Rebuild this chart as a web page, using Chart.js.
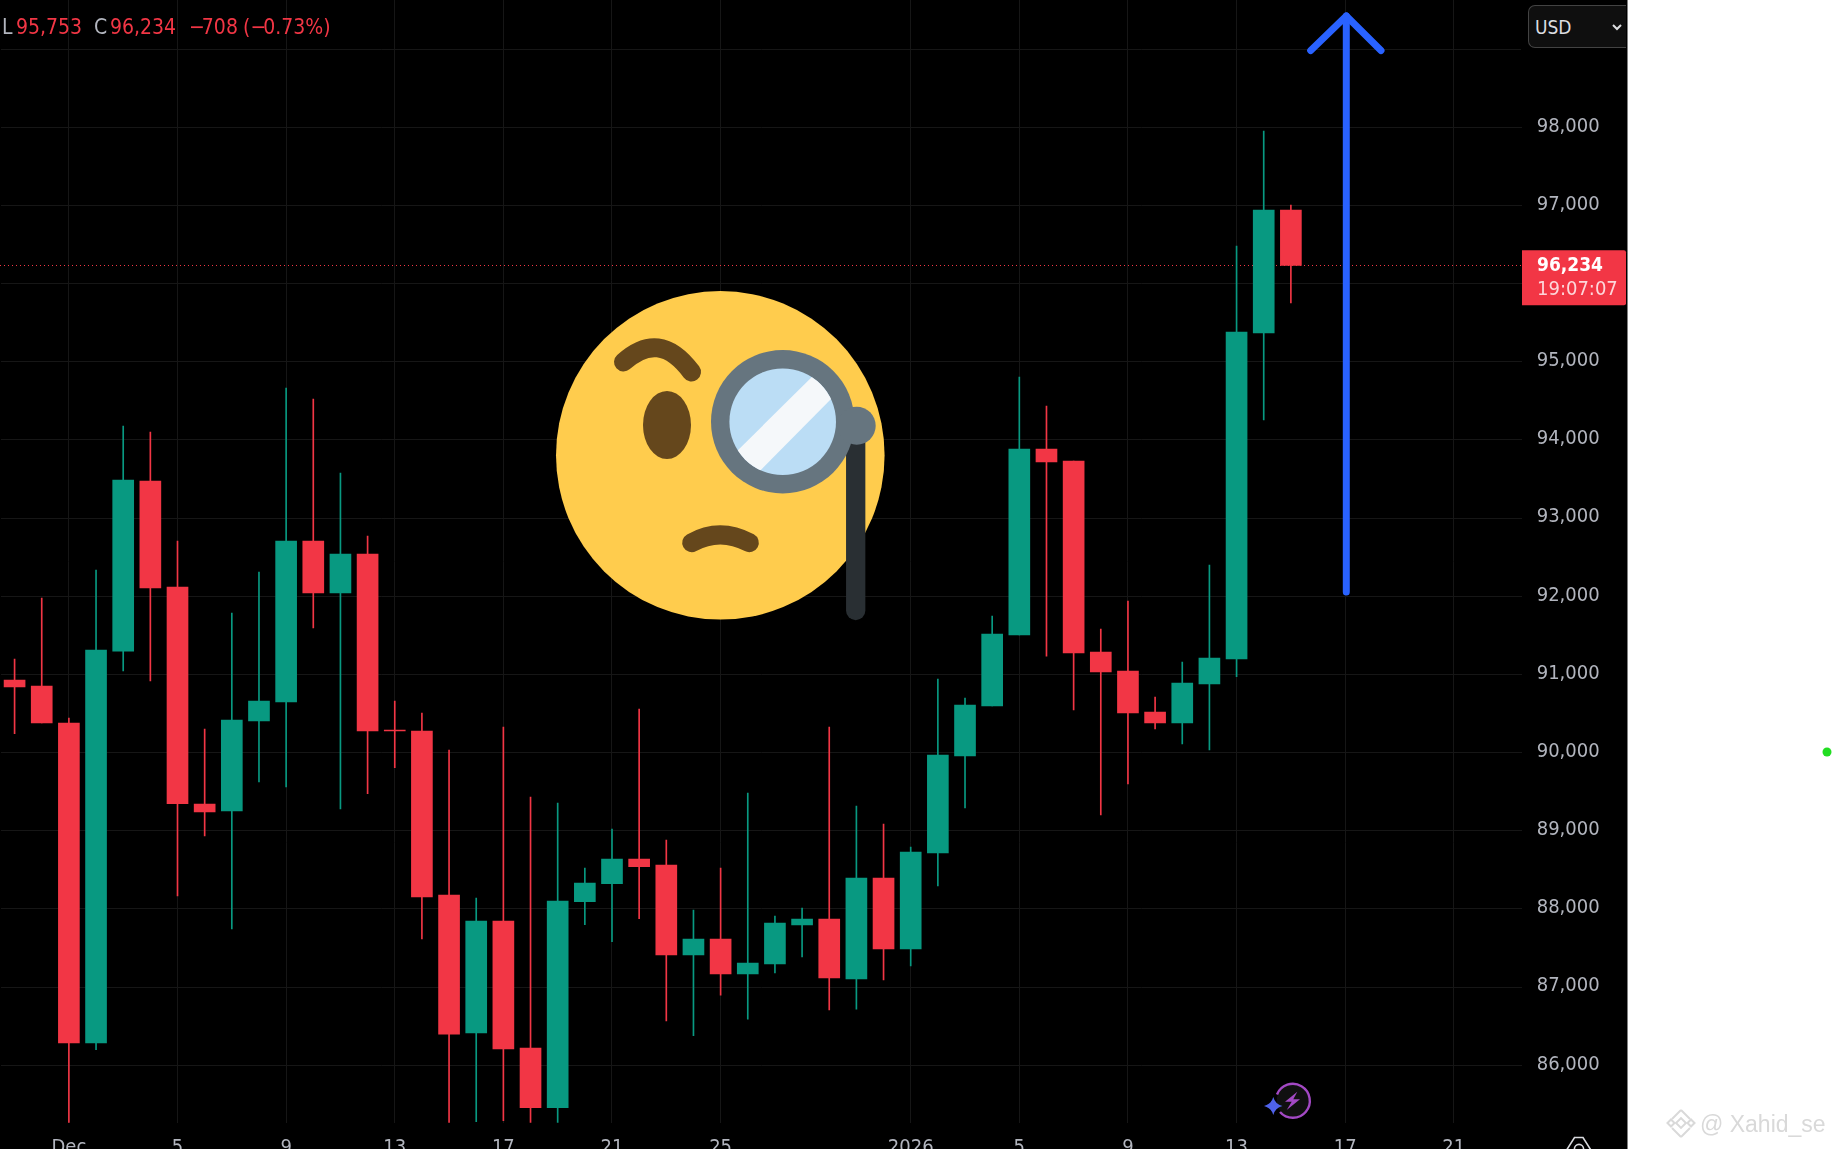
<!DOCTYPE html>
<html>
<head>
<meta charset="utf-8">
<title>BTC candles</title>
<script src="https://cdn.jsdelivr.net/npm/chart.js@4"></script>
<style>
    html, body { margin: 0; padding: 0; width: 1833px; height: 1149px; overflow: hidden; background: #fff; }
    #panel { position: absolute; left: 0; top: 0; width: 1627px; height: 1149px; background: #000; border-right: 1px solid #808080; }
    #priceChart { position: absolute; left: 0; top: 0; }
    #art { position: absolute; left: 0; top: 0; pointer-events: none; }
    .head { position: absolute; top: 13px; font: 21px/28px "DejaVu Sans Condensed", "DejaVu Sans"; color: #f23645; white-space: pre; }
    .head.key { color: #b2b5be; }
    .minus { letter-spacing: -3px; }
    #mask { position: absolute; left: 1521px; top: 0; width: 106px; height: 57px; background: #000; }
    #usd {
        position: absolute; left: 1528px; top: 5px; width: 98px; height: 43px; box-sizing: border-box;
        background: #0f0f0f; border: 1px solid #434343; border-right: 0; border-radius: 7px 0 0 7px;
        font: 19px/43px "DejaVu Sans Condensed", "DejaVu Sans"; color: #dcdde0; padding-left: 6px;
    }
    #mark { position: absolute; left: 1700px; top: 1110px; font: 23px/28px "Liberation Sans"; color: #d9d9d9; white-space: pre; }
</style>
</head>
<body>
<div id="panel"></div>
<canvas id="priceChart" width="1833" height="1149"></canvas>

<span class="head key" style="left:2px">L</span>
<span class="head" style="left:16px">95,753</span>
<span class="head key" style="left:94px">C</span>
<span class="head" style="left:110px">96,234</span>
<span class="head" style="left:189px"><span class="minus">−</span>708</span>
<span class="head" style="left:243px">(<span class="minus">−</span>0.73%)</span>

<div id="mask"></div>
<div id="usd">USD</div>
<div id="mark">@ Xahid_se</div>

<svg id="art" width="1833" height="1149" viewBox="0 0 1833 1149">
    <!-- chevron in the currency button -->
    <path d="M1613 25 L1617 29 L1621 25" fill="none" stroke="#dcdde0" stroke-width="2"/>

    <!-- monocle emoji -->
    <circle cx="720.3" cy="455.3" r="164.3" fill="#ffcc4d"/>
    <ellipse cx="667" cy="425" rx="24" ry="34" fill="#65471c"/>
    <path d="M623.5 362 C647 341 669 342 691.5 372" fill="none" stroke="#65471c" stroke-width="19" stroke-linecap="round"/>
    <path d="M691.7 542.7 Q720 527 749.3 542.7" fill="none" stroke="#65471c" stroke-width="19" stroke-linecap="round"/>
    <line x1="855.7" y1="440" x2="855.7" y2="610.5" stroke="#292f33" stroke-width="19.3" stroke-linecap="round"/>
    <circle cx="782.7" cy="421.7" r="71.7" fill="#66757f"/>
    <circle cx="856.7" cy="425.7" r="19" fill="#66757f"/>
    <circle cx="782.7" cy="421.7" r="53.3" fill="#bbddf5"/>
    <clipPath id="glass"><circle cx="782.7" cy="421.7" r="53.3"/></clipPath>
    <polygon points="822,367 842,388 750,481 729,459" fill="#f5f8fa" clip-path="url(#glass)"/>

    <!-- arrow -->
    <path d="M1346.3 16 V592" fill="none" stroke="#2962ff" stroke-width="7" stroke-linecap="round"/>
    <path d="M1310.7 50.5 L1346.3 16 L1381 50.5" fill="none" stroke="#2962ff" stroke-width="7" stroke-linecap="round" stroke-linejoin="round"/>

    <!-- bolt badge -->
    <circle cx="1292.7" cy="1100.7" r="16" fill="#101010"/>
    <path d="M1277 1094.5 A17 17 0 1 1 1280 1112" fill="none" stroke="#a349c4" stroke-width="2.4"/>
    <polygon points="1297.3,1091.7 1285,1101.7 1291.7,1101.7 1286.7,1110 1300,1099.3 1293.3,1099.3" fill="#a349c4"/>
    <path d="M1273.3 1097 Q1275 1104 1282.5 1106 Q1275 1108 1273.3 1115 Q1271.5 1108 1264 1106 Q1271.5 1104 1273.3 1097Z" fill="#4f62ea"/>

    <!-- scale settings icon, cut by the page edge -->
    <path d="M1566 1151 L1574.5 1137.5 H1583 L1591.5 1151" fill="none" stroke="#d8d9dd" stroke-width="1.6"/>
    <circle cx="1579" cy="1149" r="4.6" fill="none" stroke="#d8d9dd" stroke-width="1.6"/>

    <!-- watermark logo and dot -->
    <g fill="none" stroke="#d9d9d9" stroke-width="2">
        <path d="M1681 1110 L1690 1119 M1681 1110 L1672 1119 M1681 1137 L1690 1128 M1681 1137 L1672 1128"/>
        <rect x="1677.5" y="1119.5" width="7" height="7" transform="rotate(45 1681 1123)"/>
        <rect x="1688.5" y="1120.5" width="5" height="5" transform="rotate(45 1691 1123)"/>
        <rect x="1668.5" y="1120.5" width="5" height="5" transform="rotate(45 1671 1123)"/>
    </g>
    <circle cx="1827" cy="752" r="4.5" fill="#22dd22"/>
</svg>

<script>
const categories = [
    "", "", "Dec", "", "", "", "5", "", "", "", "9", "", "", "", "13", "", "", "", "17", "", "", "", "21", "", "",
    "", "25", "", "", "", "", "", "", "2026", "", "", "", "5", "", "", "", "9", "", "", "", "13", "", "", "", "17",
    "", "", "", "21", "", "",
];
const opens = [
    90929, 90853, 90379, 86286, 91300, 93475, 92119, 89343, 89254, 90405, 90648, 92708,
    92043, 92541, 90290, 90277, 88179, 86414, 87846, 86222, 85458, 88093, 88323, 88640,
    88563, 87411, 87616, 87168, 87296, 87795, 87872, 87104, 88396, 87488, 88716, 89957,
    90597, 91505, 93885, 93731, 91288, 91045, 90520, 90379, 90878, 91198, 95369, 96942,
];
const highs = [
    91198, 91978, 90443, 92337, 94179, 94102, 92708, 90303, 91787, 92311, 94665, 94524,
    93577, 92772, 90661, 90507, 90034, 88141, 90328, 89433, 89356, 88525, 89023, 90558,
    88882, 87987, 88525, 89484, 87910, 88013, 90328, 89317, 89087, 88793, 90942, 90699,
    91748, 94806, 94435, 93731, 91582, 91940, 90712, 91160, 92401, 96481, 97953, 97006,
];
const lows = [
    90242, 90379, 85100, 86200, 91045, 90917, 88166, 88934, 87744, 89625, 89561, 91595,
    89279, 89475, 89807, 87616, 85100, 85279, 85291, 85100, 85100, 87799, 87581, 87876,
    86567, 86379, 86899, 86592, 87181, 87386, 86708, 86720, 87092, 87271, 88294, 89292,
    90597, 91505, 91236, 90546, 89202, 89599, 90303, 90111, 90034, 90972, 94256, 95753,
];
const closes = [
    90840, 90379, 86286, 91313, 93488, 92106, 89347, 89241, 90418, 90661, 92708, 92043,
    92541, 90277, 90277, 88153, 86400, 87846, 86209, 85458, 88102, 88333, 88640, 88541,
    87411, 87616, 87168, 87309, 87821, 87872, 87117, 88396, 87488, 88729, 89970, 90610,
    91518, 93885, 93718, 91275, 91032, 90507, 90379, 90891, 91211, 95381, 96942, 96234,
];
const priceTicks = [86000, 87000, 88000, 89000, 90000, 91000, 92000, 93000, 94000, 95000, 96000, 97000, 98000, 99000];
const lastPrice = 96234;
const countdown = "19:07:07";

const UP = "#089981";
const DOWN = "#f23645";
const AXIS_FONT = "'DejaVu Sans Condensed', 'DejaVu Sans'";

function candleColor(ctx) {
    return closes[ctx.dataIndex] < opens[ctx.dataIndex] ? DOWN : UP;
}

const priceLine = {
    id: "priceLine",
    beforeDatasetsDraw(chart) {
        const y = chart.scales.y.getPixelForValue(lastPrice);
        const c = chart.ctx;
        c.save();
        c.strokeStyle = DOWN;
        c.lineWidth = 1;
        c.setLineDash([1, 3]);
        c.beginPath();
        c.moveTo(0, Math.round(y) + 0.5);
        c.lineTo(chart.chartArea.right, Math.round(y) + 0.5);
        c.stroke();
        c.restore();
    },
};

const priceTag = {
    id: "priceTag",
    afterDraw(chart) {
        const y = chart.scales.y.getPixelForValue(lastPrice);
        const c = chart.ctx;
        c.save();
        c.fillStyle = DOWN;
        c.beginPath();
        c.roundRect(1522, y - 15, 104, 55, [0, 2, 2, 0]);
        c.fill();
        c.textBaseline = "middle";
        c.fillStyle = "#fff";
        c.font = "bold 19px " + AXIS_FONT;
        c.fillText(lastPrice.toLocaleString("en-US"), 1537, y + 1);
        c.fillStyle = "rgba(255,255,255,0.8)";
        c.font = "20px " + AXIS_FONT;
        c.fillText(countdown, 1537, y + 24);
        c.restore();
    },
};

new Chart(document.getElementById("priceChart").getContext("2d"), {
    type: "bar",
    data: {
        labels: categories,
        datasets: [
            {
                label: "body",
                data: opens.map((o, i) => [o, closes[i]]),
                backgroundColor: candleColor,
                barThickness: 21,
                grouped: false,
            },
            {
                label: "wick",
                data: lows.map((l, i) => [l, highs[i]]),
                backgroundColor: candleColor,
                barThickness: 1,
                grouped: false,
            },
        ],
    },
    plugins: [priceLine, priceTag],
    options: {
        responsive: false,
        animation: false,
        layout: { padding: { left: 1 } },
        plugins: { legend: { display: false }, tooltip: { enabled: false } },
        scales: {
            x: {
                afterFit(scale) {
                    scale.height = 26.3;
                    scale.paddingLeft = 0;
                    scale.paddingRight = 0;
                },
                border: { display: false },
                grid: {
                    offset: false,
                    drawTicks: false,
                    color: (ctx) => (ctx.tick && ctx.tick.label ? "#161616" : "transparent"),
                },
                ticks: {
                    autoSkip: false,
                    maxRotation: 0,
                    padding: 13,
                    color: "#b2b5be",
                    font: { family: AXIS_FONT, size: 20 },
                },
            },
            y: {
                position: "right",
                min: 85266,
                max: 99629,
                afterBuildTicks(scale) {
                    scale.ticks = priceTicks.map((value) => ({ value }));
                },
                afterFit(scale) {
                    scale.width = 311.3;
                    scale.paddingTop = 0;
                    scale.paddingBottom = 0;
                },
                border: { display: false },
                grid: { drawTicks: false, color: "#161616" },
                ticks: {
                    padding: 15,
                    labelOffset: -1,
                    color: "#b2b5be",
                    font: { family: AXIS_FONT, size: 20 },
                    callback: (v) => v.toLocaleString("en-US"),
                },
            },
        },
    },
});
</script>
</body>
</html>
